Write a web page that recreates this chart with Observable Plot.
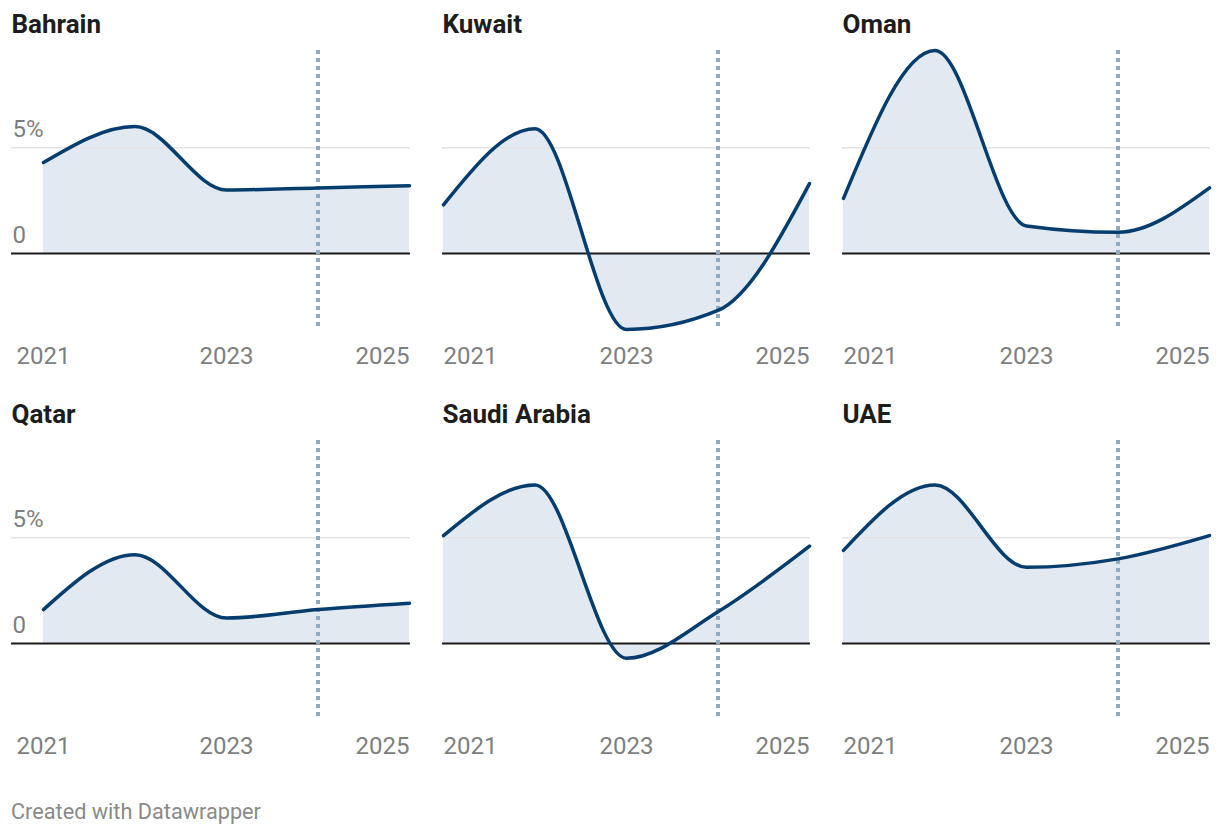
<!DOCTYPE html>
<html><head><meta charset="utf-8">
<script src="https://cdn.jsdelivr.net/npm/d3@7"></script>
<script src="https://cdn.jsdelivr.net/npm/@observablehq/plot@0.6"></script>
<style>
html,body{margin:0;padding:0;background:#fff;}
#chart{position:relative;width:1220px;height:836px;font-family:Roboto,sans-serif;overflow:hidden;background:#fff}
.title{position:absolute;font-weight:700;font-size:26px;line-height:26px;color:#1d1d1d;white-space:nowrap}
.panel{position:absolute}
.panel svg{overflow:visible;display:block}
.footer{position:absolute;left:11px;top:801px;font-size:21.7px;line-height:21.7px;color:#8a8a8a;white-space:nowrap}
</style></head>
<body><div id="chart"></div>
<script>
// ---- data ----
const years = [2021, 2022, 2023, 2024, 2025];
const countries = ["Bahrain", "Kuwait", "Oman", "Qatar", "Saudi Arabia", "UAE"];
const bahrain = [4.3, 6.0, 3.0, 3.1, 3.2];
const kuwait = [2.3, 5.9, -3.6, -2.7, 3.3];
const oman = [2.6, 9.6, 1.3, 1.0, 3.1];
const qatar = [1.6, 4.2, 1.2, 1.6, 1.9];
const saudiArabia = [5.1, 7.5, -0.7, 1.5, 4.6];
const uae = [4.4, 7.5, 3.6, 4.0, 5.1];
const forecastStart = 2024;
const yTicks = [0, 5];
const xTicks = [2021, 2023, 2025];
const footerText = "Created with Datawrapper";

const series = [bahrain, kuwait, oman, qatar, saudiArabia, uae];
const allValues = series.flat();
const yDomain = d3.extent(allValues);

const chart = document.getElementById("chart");
const colLeft = [11, 442, 842];
const colWidth = [399, 368, 368];
const colDataStart = [32, 1, 1];
const dataWidth = 366;
const rowTop = [0, 390];

countries.forEach((name, i) => {
  const col = i % 3, row = Math.floor(i / 3);
  const data = years.map((year, j) => ({year, value: series[i][j]}));

  const title = document.createElement("div");
  title.className = "title";
  title.style.left = (colLeft[col] + 0.5) + "px";
  title.style.top = (rowTop[row] + 11.4) + "px";
  title.textContent = name;
  chart.appendChild(title);

  const axisOpts = {tickSize: 0, tickPadding: 17, tickFormat: d => String(d), fill: "#7f7f7f", fontSize: 24, label: null};
  const xAxes = xTicks.map((t, k) => {
    let anchor = "middle";
    if (k === xTicks.length - 1) anchor = "end";
    else if (k === 0 && col > 0) anchor = "start";
    return Plot.axisX([t], {...axisOpts, textAnchor: anchor});
  });

  const marks = [
    Plot.areaY(data, {x: "year", y: "value", curve: "monotone-x", fill: "#e2e9f0"}),
    Plot.ruleY(yTicks.filter(t => t !== 0), {stroke: "#e3e3e3", strokeWidth: 1.5}),
    Plot.ruleY([0], {stroke: "#1a1a1a", strokeWidth: 2}),
    Plot.ruleX([forecastStart], {stroke: "#8eabc2", strokeWidth: 4, strokeDasharray: "4,4"}),
    Plot.lineY(data, {x: "year", y: "value", curve: "monotone-x", stroke: "#053e6e", strokeWidth: 3.5}),
    ...xAxes
  ];
  if (col === 0) {
    marks.push(Plot.axisY(yTicks, {
      anchor: "left", tickSize: 0, tickPadding: -1, textAnchor: "start", dy: -18,
      tickFormat: d => d === 0 ? "0" : d + "%", fill: "#7f7f7f", fontSize: 24, label: null
    }));
  }

  const svg = Plot.plot({
    width: colWidth[col],
    height: 335,
    marginTop: 10, marginBottom: 46, marginLeft: 0, marginRight: 0,
    x: {domain: [years[0], years[years.length - 1]], range: [colDataStart[col], colDataStart[col] + dataWidth], axis: null},
    y: {domain: yDomain, range: [289, 10], axis: null},
    style: {fontFamily: "Roboto, sans-serif", fontSize: "24px", overflow: "visible", background: "transparent"},
    marks
  });

  const panel = document.createElement("div");
  panel.className = "panel";
  panel.style.left = colLeft[col] + "px";
  panel.style.top = (rowTop[row] + 40) + "px";
  panel.appendChild(svg);
  chart.appendChild(panel);
});

const footer = document.createElement("div");
footer.className = "footer";
footer.textContent = footerText;
chart.appendChild(footer);
</script>
</body></html>
